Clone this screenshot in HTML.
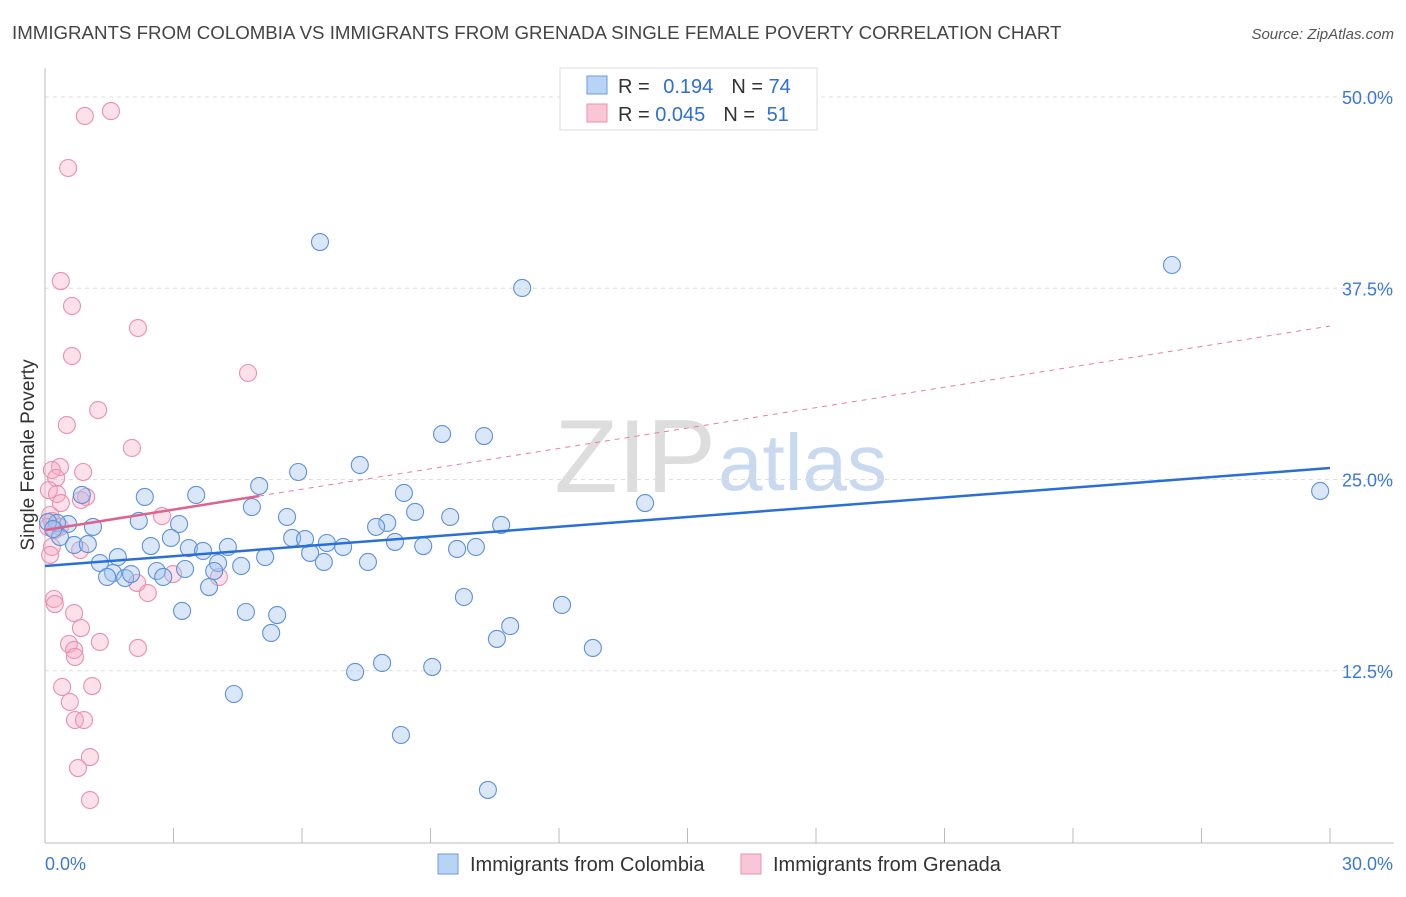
<!DOCTYPE html>
<html><head><meta charset="utf-8"><style>
body{margin:0;background:#fff;font-family:"Liberation Sans",sans-serif}
svg text{font-family:"Liberation Sans",sans-serif}
</style></head><body>
<svg id="c" width="1406" height="892">
<text x="12" y="39" font-size="18.7" fill="#444">IMMIGRANTS FROM COLOMBIA VS IMMIGRANTS FROM GRENADA SINGLE FEMALE POVERTY CORRELATION CHART</text>
<text x="1394" y="39" font-size="15" fill="#555" font-style="italic" text-anchor="end">Source: ZipAtlas.com</text>
<text x="716" y="492" font-size="104" fill="#ddd" text-anchor="end" font-family="Liberation Serif">ZIP</text>
<text x="718" y="490" font-size="80" fill="#c9daf0">atlas</text>
<text transform="translate(34,455) rotate(-90)" font-size="19" fill="#333" text-anchor="middle">Single Female Poverty</text>
<g id="grid"></g><g id="marks"></g>
<g>
<rect x="560" y="68" width="257" height="62" fill="#fff" stroke="#ddd"/>
<rect x="587" y="76" width="20" height="18" fill="#b9d3f5" stroke="#6a9be0"/>
<rect x="587" y="104" width="20" height="18" fill="#f9c6d6" stroke="#e891ad"/>
<text x="618" y="93" font-size="20" fill="#333">R = <tspan fill="#2d6fd2" dx="8">0.194</tspan><tspan dx="18">N = </tspan><tspan fill="#2d6fd2">74</tspan></text>
<text x="618" y="121" font-size="20" fill="#333">R = <tspan fill="#2d6fd2">0.045</tspan><tspan dx="18">N = </tspan><tspan fill="#2d6fd2" dx="6">51</tspan></text>
</g>
<g>
<rect x="438" y="854" width="20" height="20" fill="#b9d3f5" stroke="#6a9be0"/>
<text x="470" y="871" font-size="20" fill="#333">Immigrants from Colombia</text>
<rect x="741" y="854" width="20" height="20" fill="#f9c6d6" stroke="#e891ad"/>
<text x="773" y="871" font-size="20" fill="#333">Immigrants from Grenada</text>
</g>
</svg>
<script>
const blueX=[6.42,11.14,26.31,29.77,14.01,9.27,10.25,7.35,5.91,5.00,3.53,2.33,0.86,4.83,8.38,8.64,9.46,10.65,7.99,7.73,5.65,3.13,2.19,1.12,0.54,0.28,0.35,0.68,1.00,2.94,2.47,3.36,3.69,4.27,4.04,4.58,5.14,5.77,6.07,6.19,6.58,6.96,6.51,7.54,8.17,8.83,9.62,10.06,1.70,1.28,1.59,1.45,1.87,2.01,2.61,2.76,3.27,3.95,3.83,3.20,4.69,5.42,5.28,9.78,12.07,10.86,10.55,12.79,7.87,7.24,9.04,4.41,8.31,10.34,0.07,0.19];
const blueY=[40.52,37.52,39.02,24.25,23.46,27.97,27.84,25.95,25.49,24.58,23.99,23.86,23.99,23.20,24.12,22.88,22.55,22.03,22.16,21.90,22.55,22.09,22.29,21.90,22.09,22.16,21.24,20.72,20.78,21.18,20.65,20.52,20.33,20.59,19.54,19.35,19.93,21.18,21.11,20.20,20.85,20.59,19.61,19.61,20.92,20.65,20.46,20.59,19.93,19.54,18.89,18.63,18.56,18.82,19.02,18.63,19.15,19.02,17.97,16.41,16.34,16.14,14.97,17.32,16.80,15.42,14.58,13.99,13.01,12.42,12.75,10.98,8.30,4.71,22.22,21.76];
const pinkX=[1.54,0.93,0.54,0.37,0.63,2.17,0.63,4.74,1.24,0.51,2.03,0.35,0.16,0.89,0.26,0.09,0.28,0.96,0.84,0.37,0.12,2.73,0.16,0.07,0.23,0.35,0.16,0.12,0.82,4.06,2.99,2.15,2.40,0.21,0.23,0.68,0.84,0.56,1.28,0.68,0.70,2.17,0.40,1.10,0.58,0.70,0.91,1.05,0.77,1.05];
const pinkY=[49.08,48.76,45.36,37.97,36.34,34.90,33.07,31.96,29.54,28.56,27.06,25.82,25.62,25.49,25.10,24.31,24.05,23.86,23.66,23.46,22.68,22.61,22.29,21.90,21.70,21.90,20.59,20.07,20.39,18.63,18.82,18.24,17.58,17.19,16.86,16.27,15.29,14.25,14.38,13.86,13.40,13.99,11.44,11.50,10.46,9.28,9.28,6.86,6.14,4.05];
const blueTrend=[19.35,25.75];
const pinkTrend=[21.7,35.03];
const pinkSolidEnd=5;
const yTicks=[12.5,25,37.5,50];
const xTickLabels=["0.0%","30.0%"];
const X=v=>45+v/30*1285, Y=v=>862-v*15.3;
const NS="http://www.w3.org/2000/svg";
const grid=document.getElementById('grid'), marks=document.getElementById('marks');
function mk(tag,attrs,parent){const e=document.createElementNS(NS,tag);for(const k in attrs)e.setAttribute(k,attrs[k]);parent.appendChild(e);return e;}
yTicks.forEach(t=>{
 const l=mk('line',{x1:45,x2:1394,y1:Y(t),y2:Y(t),stroke:'#ddd','stroke-dasharray':'4,4'},grid);
 
 
 const tx=mk('text',{x:1393,y:Y(t)+7,'font-size':18,fill:'#3b78d8','text-anchor':'end'},grid);
 tx.textContent=t.toFixed(1)+'%';
 
 
});
const ax=mk('line',{x1:45,x2:45,y1:68,y2:843,stroke:'#bbb'},grid);


const bx=mk('line',{x1:45,x2:1394,y1:843,y2:843,stroke:'#bbb'},grid);


for(let i=0;i<=10;i++){const t=mk('line',{x1:X(i*3),x2:X(i*3),y1:828,y2:843,stroke:'#bbb'},grid);
 
 }
[[0,'start'],[30,'end']].forEach((p,i)=>{const t=mk('text',{x:i?1393:45,y:870,'font-size':18,fill:'#3b78d8','text-anchor':p[1]},grid);t.textContent=xTickLabels[i];
 
 });
pinkX.forEach((x,i)=>{const c=mk('circle',{cx:X(x),cy:Y(pinkY[i]),r:8.5,fill:'rgba(245,170,195,0.35)',stroke:'#e891ad','stroke-width':1.1},marks);
 
 });
blueX.forEach((x,i)=>{const c=mk('circle',{cx:X(x),cy:Y(blueY[i]),r:8.5,fill:'rgba(160,195,240,0.4)',stroke:'#5d91dc','stroke-width':1.1},marks);
 
 });
const pv=x=>pinkTrend[0]+(pinkTrend[1]-pinkTrend[0])*x/30;
const pd=mk('line',{x1:X(pinkSolidEnd),y1:Y(pv(pinkSolidEnd)),x2:X(30),y2:Y(pinkTrend[1]),stroke:'#e87fa0','stroke-width':1,'stroke-dasharray':'5,5'},marks);


const ps=mk('line',{x1:X(0),y1:Y(pinkTrend[0]),x2:X(pinkSolidEnd),y2:Y(pv(pinkSolidEnd)),stroke:'#e0628a','stroke-width':2.5},marks);


const bl=mk('line',{x1:X(0),y1:Y(blueTrend[0]),x2:X(30),y2:Y(blueTrend[1]),stroke:'#2a6fd6','stroke-width':2.5},marks);


</script>
</body></html>
